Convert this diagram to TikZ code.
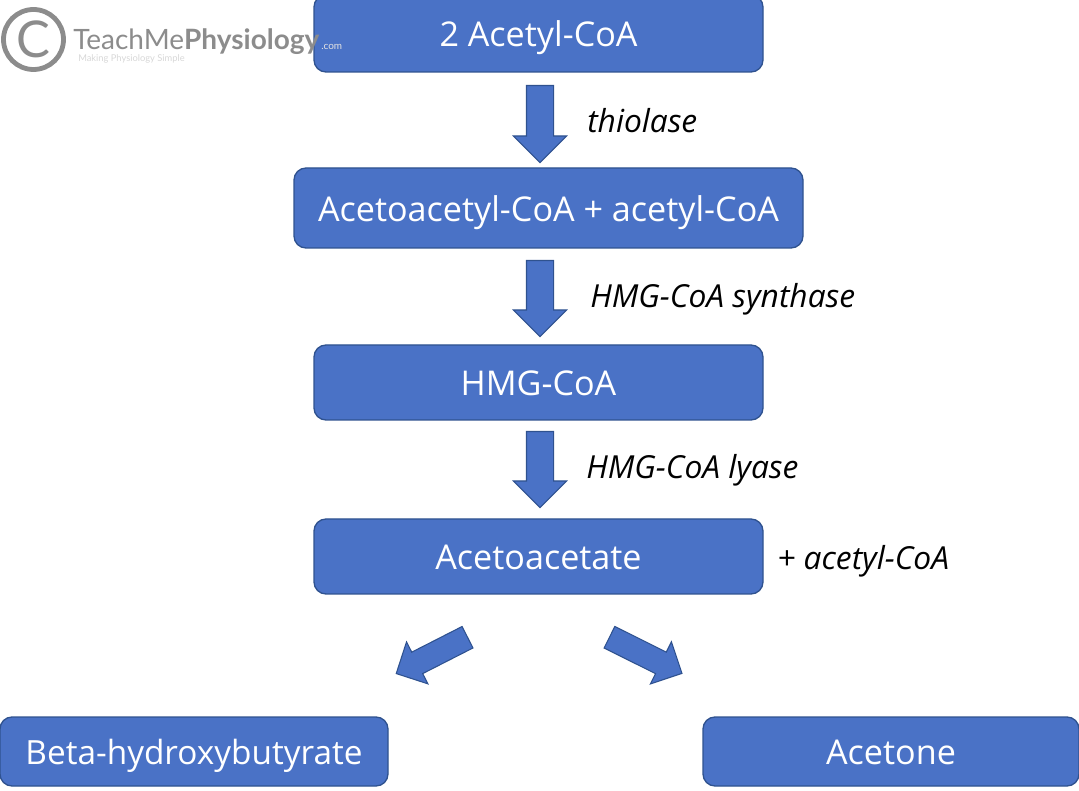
\documentclass[tikz,border=0pt]{standalone}
\usepackage{fontspec}
\setmainfont{Open Sans}
\newfontfamily\logofont{Lato}
\usetikzlibrary{shapes.arrows}
\definecolor{boxblue}{HTML}{4A72C6}
\definecolor{boxedge}{HTML}{2F528F}
\definecolor{logogray}{HTML}{8C8C8C}
\begin{document}
\begin{tikzpicture}[x=0.75pt,y=-0.75pt,
  main node/.style={rectangle,rounded corners=9pt,draw=boxedge,line width=1pt,fill=boxblue,text=white,font=\fontsize{25.6}{30}\selectfont,inner sep=0pt,text height=19.8pt,text depth=0pt},
  flow arrow/.style={single arrow,draw=boxedge,line width=0.8pt,fill=boxblue,inner xsep=0pt,single arrow tip angle=90,anchor=tail},
  enzyme label/.style={anchor=west,inner sep=0pt,font=\fontsize{23.8}{28}\itshape\selectfont}]%
  \useasboundingbox (0,0) rectangle (1079,791);
  \pgfmathsetmacro{\unit}{0.75}
  % boxes, from top to bottom
  \foreach \nm/\cx/\cy/\boxw/\boxh/\txt in {acetyl/538.5/33.5/449/77/2 Acetyl-CoA,
      acetoacetyl/548.5/208/509/80/Acetoacetyl-CoA + acetyl-CoA,
      hmg/538.5/382.5/449/75/HMG-CoA,
      acetoacetate/538.5/556.5/449/75/Acetoacetate,
      beta/194/751.5/388/69/{\fontsize{25}{30}\selectfont Beta-hydroxybutyrate},
      acetone/891/751.5/376/69/Acetone}
  \node[main node,minimum width=\boxw*\unit pt,minimum height=\boxh*\unit pt] (\nm) at (\cx,\cy) {\txt};

  % block arrows
  \foreach \nm/\cx/\cy/\len/\sh/\ang in {arrowa/540/85/77/13/-90,arrowb/540/260/76/13/-90,arrowc/540/431/76/13/-90,
      arrowl/468/637/80/11.5/-153,arrowr/609/637/81/11.5/-26.5}
  \node[flow arrow,minimum height=\len*\unit pt,inner ysep=\sh*\unit pt,single arrow head extend=\sh*\unit pt,rotate=\ang] (\nm) at (\cx,\cy) {};

  % enzymes
  \node[enzyme label] (thiolase) at (587,121) {thiolase};
  \node[enzyme label] (synthase) at (590,299) {HMG-CoA synthase};
  \node[enzyme label] (lyase) at (586,470) {HMG-CoA lyase};
  \node[enzyme label] (extra) at (777,561) {+ acetyl-CoA};

  % logo
  \node[circle,draw=logogray,line width=3.6pt,minimum size=60*\unit pt,inner sep=0pt,text=logogray,font=\logofont\fontsize{38}{38}\selectfont] (copyright) at (33.5,39.5) {C};
  \node[anchor=west,inner sep=0pt,text=logogray,font=\logofont\fontsize{21}{22}\selectfont] (teachme) at (73,42) {TeachMe\textbf{Physiology}};
  \node[anchor=west,inner sep=0pt,text=white!75!logogray,font=\logofont\fontsize{7.5}{8}\selectfont] (dotcom) at (321,47) {.com};
  \node[anchor=west,inner sep=0pt,text=white!65!logogray,font=\logofont\fontsize{7}{8}\selectfont] (tagline) at (78,59) {Making Physiology Simple};
\end{tikzpicture}
\end{document}
